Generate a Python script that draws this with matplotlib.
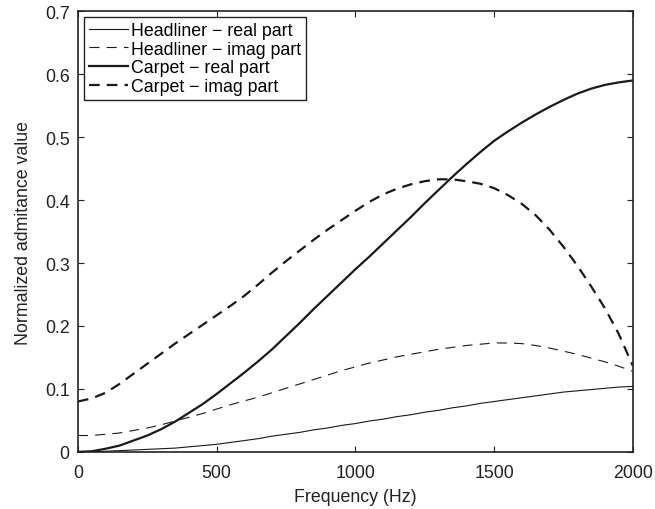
import matplotlib
matplotlib.use("Agg")
import matplotlib.pyplot as plt

plt.rcParams['font.family'] = ['Liberation Sans', 'DejaVu Sans']

freq = [0, 50, 100, 150, 200, 250, 300, 350, 400, 450, 500, 550, 600, 650, 700, 750,
        800, 850, 900, 950, 1000, 1050, 1100, 1150, 1200, 1250, 1300, 1350, 1400, 1450,
        1500, 1550, 1600, 1650, 1700, 1750, 1800, 1850, 1900, 1950, 2000]

headliner_real = [0.000, 0.0003, 0.001, 0.002, 0.003, 0.004, 0.005, 0.006, 0.008, 0.010,
                  0.012, 0.015, 0.018, 0.021, 0.025, 0.028, 0.031, 0.035, 0.038, 0.042,
                  0.045, 0.049, 0.052, 0.056, 0.059, 0.063, 0.066, 0.070, 0.073, 0.077,
                  0.080, 0.083, 0.086, 0.089, 0.092, 0.095, 0.097, 0.099, 0.101, 0.103, 0.104]
headliner_imag = [0.026, 0.026, 0.028, 0.030, 0.034, 0.038, 0.043, 0.049, 0.055, 0.061,
                  0.068, 0.075, 0.081, 0.087, 0.094, 0.101, 0.108, 0.115, 0.122, 0.129,
                  0.135, 0.141, 0.146, 0.151, 0.155, 0.159, 0.163, 0.166, 0.169, 0.171,
                  0.173, 0.173, 0.172, 0.169, 0.165, 0.160, 0.155, 0.149, 0.143, 0.136, 0.128]
carpet_real = [0.000, 0.001, 0.005, 0.010, 0.018, 0.026, 0.036, 0.048, 0.062, 0.076,
               0.092, 0.109, 0.126, 0.144, 0.163, 0.184, 0.205, 0.227, 0.248, 0.269,
               0.290, 0.310, 0.331, 0.352, 0.373, 0.395, 0.416, 0.437, 0.457, 0.476,
               0.494, 0.509, 0.523, 0.536, 0.548, 0.559, 0.569, 0.577, 0.583, 0.587, 0.590]
carpet_imag = [0.080, 0.085, 0.094, 0.108, 0.124, 0.140, 0.156, 0.172, 0.187, 0.202,
               0.217, 0.232, 0.248, 0.266, 0.285, 0.303, 0.320, 0.337, 0.353, 0.368,
               0.383, 0.397, 0.409, 0.418, 0.425, 0.430, 0.433, 0.433, 0.430, 0.426,
               0.419, 0.408, 0.394, 0.376, 0.353, 0.326, 0.296, 0.263, 0.228, 0.187, 0.137]

labels = ['Headliner \u2212 real part', 'Headliner \u2212 imag part',
          'Carpet \u2212 real part', 'Carpet \u2212 imag part']

xticks = [0, 500, 1000, 1500, 2000]
yticks = [0, 0.1, 0.2, 0.3, 0.4, 0.5, 0.6, 0.7]
ytick_labels = ['0', '0.1', '0.2', '0.3', '0.4', '0.5', '0.6', '0.7']

fs = 12.8
tc = '#222222'

fig = plt.figure(figsize=(6.55, 5.10), dpi=100)
ax = fig.add_axes([0.119, 0.112, 0.847, 0.864])

c = '#1a1a1a'
ax.plot(freq, headliner_real, color=c, lw=0.8, ls='-', label=labels[0])
ax.plot(freq, headliner_imag, color=c, lw=0.8, ls=(0, (9, 6.5)), label=labels[1])
ax.plot(freq, carpet_real, color=c, lw=1.6, ls='-', label=labels[2])
ax.plot(freq, carpet_imag, color=c, lw=1.6, ls=(0, (4.8, 3.2)), label=labels[3])

ax.set_xlim(0, 2000)
ax.set_ylim(0, 0.7)
ax.set_xticks(xticks)
ax.set_yticks(yticks)
ax.set_yticklabels(ytick_labels)
ax.tick_params(direction='in', length=4, width=0.8, top=True, right=True,
               labelsize=fs, colors=tc, pad=6)
ax.tick_params(axis='x', pad=9)
for s in ax.spines.values():
    s.set_linewidth(1.2)
    s.set_color(tc)

ax.set_xlabel('Frequency (Hz)', fontsize=fs, color=tc, labelpad=5)
ax.set_ylabel('Normalized admitance value', fontsize=fs, color=tc, labelpad=9)

leg = ax.legend(loc='upper left', fontsize=fs, frameon=True, fancybox=False,
                edgecolor=tc, framealpha=1, handlelength=2.2,
                borderaxespad=0.35, borderpad=0.25, labelspacing=0.1,
                handletextpad=0.2)
leg.get_frame().set_linewidth(1.0)

fig.savefig('out.png', dpi=100)
